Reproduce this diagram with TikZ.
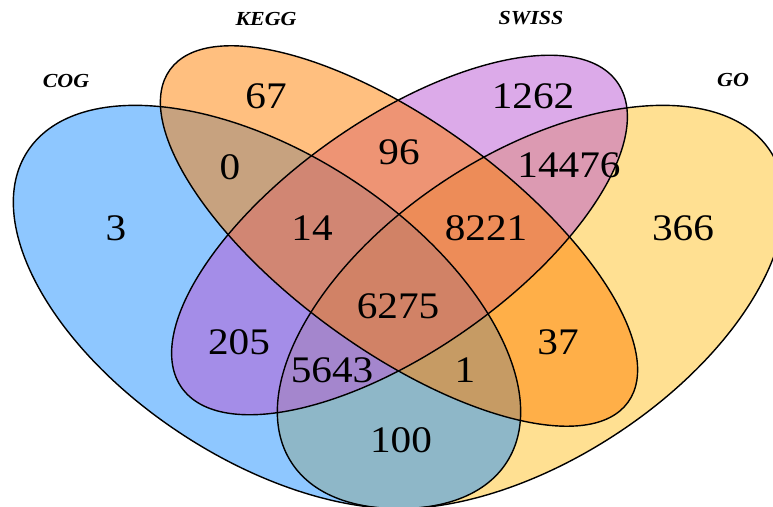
\documentclass[tikz,border=0pt]{standalone}
\usepackage{fontspec}
\setmainfont{Liberation Serif}[FakeStretch=1.1]
\definecolor{cogblue}{RGB}{30,144,255}
\definecolor{gogold}{RGB}{255,193,37}
\definecolor{swisspurple}{RGB}{186,85,211}
\definecolor{keggorange}{RGB}{255,127,0}
\tikzset{
	setfill/.style={fill opacity=0.5},
	setline/.style={draw=black, line width=1.2pt},
	count/.style={font=\fontsize{32}{32}\selectfont, inner sep=0pt},
	setname/.style={font=\fontsize{17}{17}\selectfont\bfseries\itshape, inner sep=0pt}
}
\begin{document}
\begin{tikzpicture}[x=0.03cm, y=0.03cm]
	\useasboundingbox (0,0) rectangle (773,507);
	\clip (0,0) rectangle (773,507);
	% fills, back to front
	\fill [gogold, setfill, rotate around={33:(531,200)}] (531,200) ellipse (285.6 and 153);
	\fill [cogblue, setfill, rotate around={-33:(267,200)}] (267,200) ellipse (285.6 and 153);
	\fill [swisspurple, setfill, rotate around={35:(399.5,272)}] (399.5,272) ellipse (266 and 116);
	\fill [keggorange, setfill, rotate around={-36:(399,271)}] (399,271) ellipse (283 and 114);
	% outlines
	\draw [setline, rotate around={33:(531,200)}] (531,200) ellipse (285.6 and 153);
	\draw [setline, rotate around={-33:(267,200)}] (267,200) ellipse (285.6 and 153);
	\draw [setline, rotate around={35:(399.5,272)}] (399.5,272) ellipse (266 and 116);
	\draw [setline, rotate around={-36:(399,271)}] (399,271) ellipse (283 and 114);
	% set names
	\node [setname] (cog) at (66,426) {COG};
	\node [setname] (kegg) at (266,488) {KEGG};
	\node [setname] (swiss) at (531,489) {SWISS};
	\node [setname] (go) at (733,427) {GO};
	% region counts
	\node [count] (k) at (266,411) {67};
	\node [count] (ck) at (230,340) {0};
	\node [count] (c) at (116,279) {3};
	\node [count] (cks) at (312,279) {14};
	\node [count] (ks) at (399,355) {96};
	\node [count] (s) at (533,411) {1262};
	\node [count] (sg) at (569,342) {14476};
	\node [count] (ksg) at (486,279) {8221};
	\node [count] (g) at (683,279) {366};
	\node [count] (cksg) at (398,201) {6275};
	\node [count] (cs) at (239,165) {205};
	\node [count] (csg) at (332,137) {5643};
	\node [count] (ckg) at (465,137) {1};
	\node [count] (kg) at (558,165) {37};
	\node [count] (cg) at (401,67) {100};
\end{tikzpicture}
\end{document}
